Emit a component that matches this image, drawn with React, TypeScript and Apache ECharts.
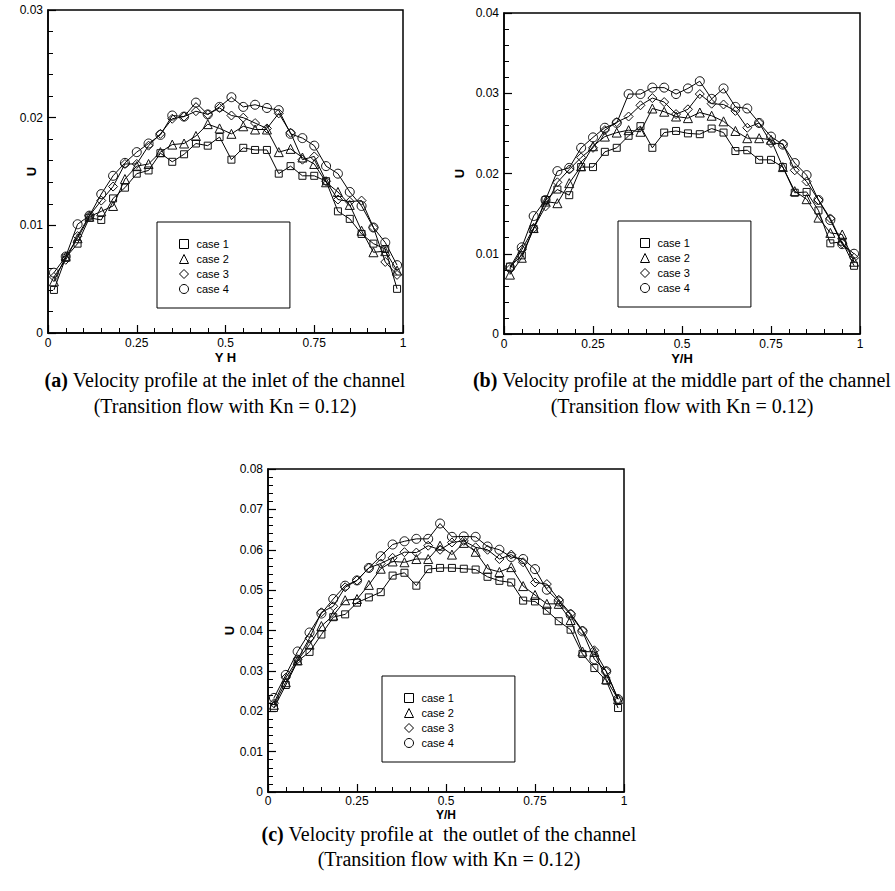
import React, { useEffect, useRef } from 'react';
import * as echarts from 'echarts';

// Y/H positions (cell centres across the channel)
const yOverH = [0.0167, 0.05, 0.0833, 0.1167, 0.15, 0.1833, 0.2167, 0.25, 0.2833, 0.3167, 0.35, 0.3833, 0.4167, 0.45, 0.4833, 0.5167, 0.55, 0.5833, 0.6167, 0.65, 0.6833, 0.7167, 0.75, 0.7833, 0.8167, 0.85, 0.8833, 0.9167, 0.95, 0.9833];

const caseNames = ['case 1', 'case 2', 'case 3', 'case 4'];

// (a) inlet
const inletCase1 = [0.0040, 0.0070, 0.0083, 0.0107, 0.0105, 0.0125, 0.0135, 0.0148, 0.0151, 0.0167, 0.0159, 0.0166, 0.0176, 0.0174, 0.0182, 0.0161, 0.0172, 0.0170, 0.0170, 0.0148, 0.0155, 0.0146, 0.0146, 0.0141, 0.0113, 0.0106, 0.0092, 0.0083, 0.0078, 0.0041];
const inletCase2 = [0.0048, 0.0071, 0.0088, 0.0108, 0.0113, 0.0118, 0.0143, 0.0155, 0.0157, 0.0168, 0.0175, 0.0176, 0.0183, 0.0194, 0.0190, 0.0185, 0.0192, 0.0189, 0.0189, 0.0168, 0.0171, 0.0163, 0.0157, 0.0140, 0.0131, 0.0119, 0.0095, 0.0075, 0.0076, 0.0058];
const inletCase3 = [0.0052, 0.0068, 0.0090, 0.0109, 0.0123, 0.0136, 0.0157, 0.0157, 0.0174, 0.0185, 0.0199, 0.0201, 0.0206, 0.0203, 0.0209, 0.0202, 0.0200, 0.0195, 0.0190, 0.0204, 0.0186, 0.0161, 0.0164, 0.0141, 0.0124, 0.0122, 0.0123, 0.0098, 0.0066, 0.0054];
const inletCase4 = [0.0056, 0.0071, 0.0101, 0.0109, 0.0129, 0.0146, 0.0158, 0.0168, 0.0176, 0.0184, 0.0202, 0.0201, 0.0214, 0.0203, 0.0210, 0.0219, 0.0210, 0.0212, 0.0209, 0.0207, 0.0185, 0.0181, 0.0174, 0.0155, 0.0148, 0.0131, 0.0118, 0.0098, 0.0084, 0.0063];

// (b) middle part
const middleCase1 = [0.0084, 0.0098, 0.0131, 0.0167, 0.0180, 0.0173, 0.0208, 0.0208, 0.0227, 0.0232, 0.0247, 0.0259, 0.0232, 0.0251, 0.0253, 0.0250, 0.0249, 0.0256, 0.0251, 0.0228, 0.0229, 0.0217, 0.0217, 0.0208, 0.0176, 0.0177, 0.0154, 0.0113, 0.0115, 0.0085];
const middleCase2 = [0.0074, 0.0095, 0.0132, 0.0165, 0.0163, 0.0188, 0.0209, 0.0234, 0.0246, 0.0251, 0.0254, 0.0252, 0.0281, 0.0277, 0.0271, 0.0269, 0.0276, 0.0272, 0.0265, 0.0253, 0.0244, 0.0244, 0.0242, 0.0208, 0.0178, 0.0168, 0.0145, 0.0126, 0.0124, 0.0090];
const middleCase3 = [0.0081, 0.0105, 0.0132, 0.0159, 0.0189, 0.0205, 0.0220, 0.0232, 0.0254, 0.0264, 0.0271, 0.0285, 0.0294, 0.0289, 0.0274, 0.0280, 0.0299, 0.0287, 0.0286, 0.0278, 0.0257, 0.0263, 0.0238, 0.0237, 0.0204, 0.0190, 0.0167, 0.0144, 0.0113, 0.0095];
const middleCase4 = [0.0083, 0.0108, 0.0147, 0.0167, 0.0203, 0.0207, 0.0232, 0.0245, 0.0257, 0.0263, 0.0299, 0.0299, 0.0307, 0.0307, 0.0299, 0.0306, 0.0315, 0.0293, 0.0306, 0.0283, 0.0281, 0.0263, 0.0246, 0.0236, 0.0213, 0.0198, 0.0167, 0.0142, 0.0112, 0.0100];

// (c) outlet
const outletCase1 = [0.0208, 0.0265, 0.0324, 0.0347, 0.0390, 0.0433, 0.0440, 0.0469, 0.0482, 0.0495, 0.0536, 0.0543, 0.0511, 0.0552, 0.0555, 0.0555, 0.0553, 0.0551, 0.0533, 0.0523, 0.0519, 0.0474, 0.0472, 0.0449, 0.0423, 0.0402, 0.0342, 0.0307, 0.0276, 0.0208];
const outletCase2 = [0.0216, 0.0272, 0.0326, 0.0365, 0.0411, 0.0437, 0.0475, 0.0478, 0.0513, 0.0553, 0.0571, 0.0569, 0.0577, 0.0577, 0.0610, 0.0588, 0.0617, 0.0595, 0.0553, 0.0545, 0.0557, 0.0510, 0.0488, 0.0466, 0.0466, 0.0426, 0.0348, 0.0347, 0.0279, 0.0230];
const outletCase3 = [0.0220, 0.0283, 0.0329, 0.0381, 0.0445, 0.0460, 0.0507, 0.0524, 0.0555, 0.0566, 0.0580, 0.0594, 0.0593, 0.0610, 0.0600, 0.0618, 0.0622, 0.0606, 0.0600, 0.0577, 0.0588, 0.0569, 0.0519, 0.0515, 0.0476, 0.0442, 0.0400, 0.0351, 0.0299, 0.0230];
const outletCase4 = [0.0233, 0.0290, 0.0348, 0.0395, 0.0442, 0.0478, 0.0511, 0.0524, 0.0555, 0.0584, 0.0613, 0.0621, 0.0627, 0.0627, 0.0665, 0.0632, 0.0633, 0.0632, 0.0608, 0.0600, 0.0582, 0.0577, 0.0552, 0.0501, 0.0472, 0.0439, 0.0398, 0.0329, 0.0299, 0.0230];

const yMaxes = [0.03, 0.04, 0.08];
const xAxisNames = ['Y H', 'Y/H', 'Y/H'];
const yAxisName = 'U';
const captionLine1 = [
  ['(a)', ' Velocity profile at the inlet of the channel'],
  ['(b)', ' Velocity profile at the middle part of the channel'],
  ['(c)', ' Velocity profile at  the outlet of the channel'],
];
const captionLine2 = '(Transition flow with Kn = 0.12)';

const panels = [
  [inletCase1, inletCase2, inletCase3, inletCase4],
  [middleCase1, middleCase2, middleCase3, middleCase4],
  [outletCase1, outletCase2, outletCase3, outletCase4],
];

const SANS = '"Liberation Sans", Arial, Helvetica, sans-serif';
const SERIF = '"Liberation Serif", "Times New Roman", serif';

const grids = [
  { left: 48, top: 10, width: 355, height: 323 },
  { left: 504, top: 13, width: 356, height: 321 },
  { left: 268, top: 469, width: 356, height: 323 },
];
const xNameGaps = [18, 18, 17];
const xLabelMargins = [4, 4, 3];
const yNameGaps = [10, 38, 32];
const legendPos = [
  { left: 157, top: 222 },
  { left: 618, top: 221 },
  { left: 382, top: 676 },
];
const captionPos = [
  { x: 225, y1: 380, y2: 406 },
  { x: 682, y1: 380, y2: 406 },
  { x: 449, y1: 834, y2: 859 },
];
const symbols = ['rect', 'triangle', 'diamond', 'circle'];
const symbolSizes = [7, 9, 9, 9];

export default function App() {
  const ref = useRef<HTMLDivElement>(null);
  useEffect(() => {
    if (!ref.current) return;
    const chart = echarts.init(ref.current, null, { renderer: 'svg' });

    const xAxis = grids.map((_, g) => ({
      type: 'value',
      gridIndex: g,
      min: 0,
      max: 1,
      interval: 0.25,
      name: xAxisNames[g],
      nameLocation: 'middle',
      nameGap: xNameGaps[g],
      nameMoveOverlap: false,
      nameTextStyle: { fontWeight: 'bold', fontSize: g === 2 ? 12 : 13, fontFamily: SANS, color: '#000' },
      axisLine: { show: true, onZero: false, lineStyle: { color: '#000', width: 1.5 } },
      axisTick: { show: true, inside: true, length: 8, lineStyle: { color: '#000', width: 1.2 } },
      minorTick: { show: true, splitNumber: 5, length: 5, lineStyle: { color: '#000', width: 1 } },
      axisLabel: { color: '#000', fontSize: 12, fontFamily: SANS, margin: xLabelMargins[g] },
      splitLine: { show: false },
      minorSplitLine: { show: false },
    }));

    const yAxis = grids.map((_, g) => ({
      type: 'value',
      gridIndex: g,
      min: 0,
      max: yMaxes[g],
      interval: 0.01,
      name: yAxisName,
      nameLocation: 'middle',
      nameGap: yNameGaps[g],
      nameMoveOverlap: false,
      nameTextStyle: { fontWeight: 'bold', fontSize: 13, fontFamily: SANS, color: '#000' },
      axisLine: { show: true, onZero: false, lineStyle: { color: '#000', width: 1.5 } },
      axisTick: { show: true, inside: true, length: 8, lineStyle: { color: '#000', width: 1.2 } },
      minorTick: { show: true, splitNumber: 5, length: 5, lineStyle: { color: '#000', width: 1 } },
      axisLabel: {
        color: '#000', fontSize: 12, fontFamily: SANS, margin: 5,
        formatter: (v: number) => (v === 0 ? '0' : String(+v.toFixed(2))),
      },
      splitLine: { show: false },
      minorSplitLine: { show: false },
    }));

    const series: any[] = [];
    panels.forEach((cases, g) => {
      cases.forEach((vals, c) => {
        series.push({
          type: 'line',
          name: caseNames[c],
          xAxisIndex: g,
          yAxisIndex: g,
          data: yOverH.map((x, i) => [x, vals[i]]),
          symbol: symbols[c],
          symbolSize: symbolSizes[c],
          showSymbol: true,
          color: '#000',
          lineStyle: { color: '#000', width: 1 },
          itemStyle: { color: 'rgba(0,0,0,0)', borderColor: '#111', borderWidth: 1 },
          emphasis: { disabled: true },
        });
      });
    });

    const legend = legendPos.map((p) => ({
      ...p,
      orient: 'vertical',
      padding: [16, 61, 13, 22],
      itemWidth: 9,
      itemHeight: 9,
      itemGap: 3,
      symbolKeepAspect: true,
      borderColor: '#000',
      borderWidth: 1,
      borderRadius: 0,
      backgroundColor: '#fff',
      selectedMode: false,
      textStyle: { fontFamily: SANS, fontSize: 11, color: '#000', lineHeight: 12, padding: [0, 0, 0, 3] },
      itemStyle: { color: 'rgba(0,0,0,0)', borderColor: '#000', borderWidth: 1 },
      data: caseNames.map((n, c) => ({ name: n, icon: symbols[c] })),
    }));

    const graphic: any[] = [];
    captionPos.forEach((p, g) => {
      graphic.push({
        type: 'text',
        x: p.x,
        y: p.y1,
        style: {
          text: `{b|${captionLine1[g][0]}}${captionLine1[g][1]}`,
          rich: { b: { fontWeight: 'bold', fontFamily: SERIF, fontSize: 20, fill: '#000' } },
          fontFamily: SERIF,
          fontSize: 20,
          fill: '#000',
          align: 'center',
          verticalAlign: 'middle',
        },
      });
      graphic.push({
        type: 'text',
        x: p.x,
        y: p.y2,
        style: {
          text: captionLine2,
          fontFamily: SERIF,
          fontSize: 20,
          fill: '#000',
          align: 'center',
          verticalAlign: 'middle',
        },
      });
    });

    chart.setOption({
      animation: false,
      backgroundColor: '#fff',
      grid: grids.map((g) => ({ ...g, show: true, borderColor: '#000', borderWidth: 1.5, backgroundColor: 'rgba(0,0,0,0)' })),
      xAxis,
      yAxis,
      legend,
      series,
      graphic,
    });
    return () => chart.dispose();
  }, []);

  return (
    <div
      ref={ref}
      style={{ position: 'absolute', left: 0, top: 0, width: 895, height: 891, background: '#fff' }}
    />
  );
}
